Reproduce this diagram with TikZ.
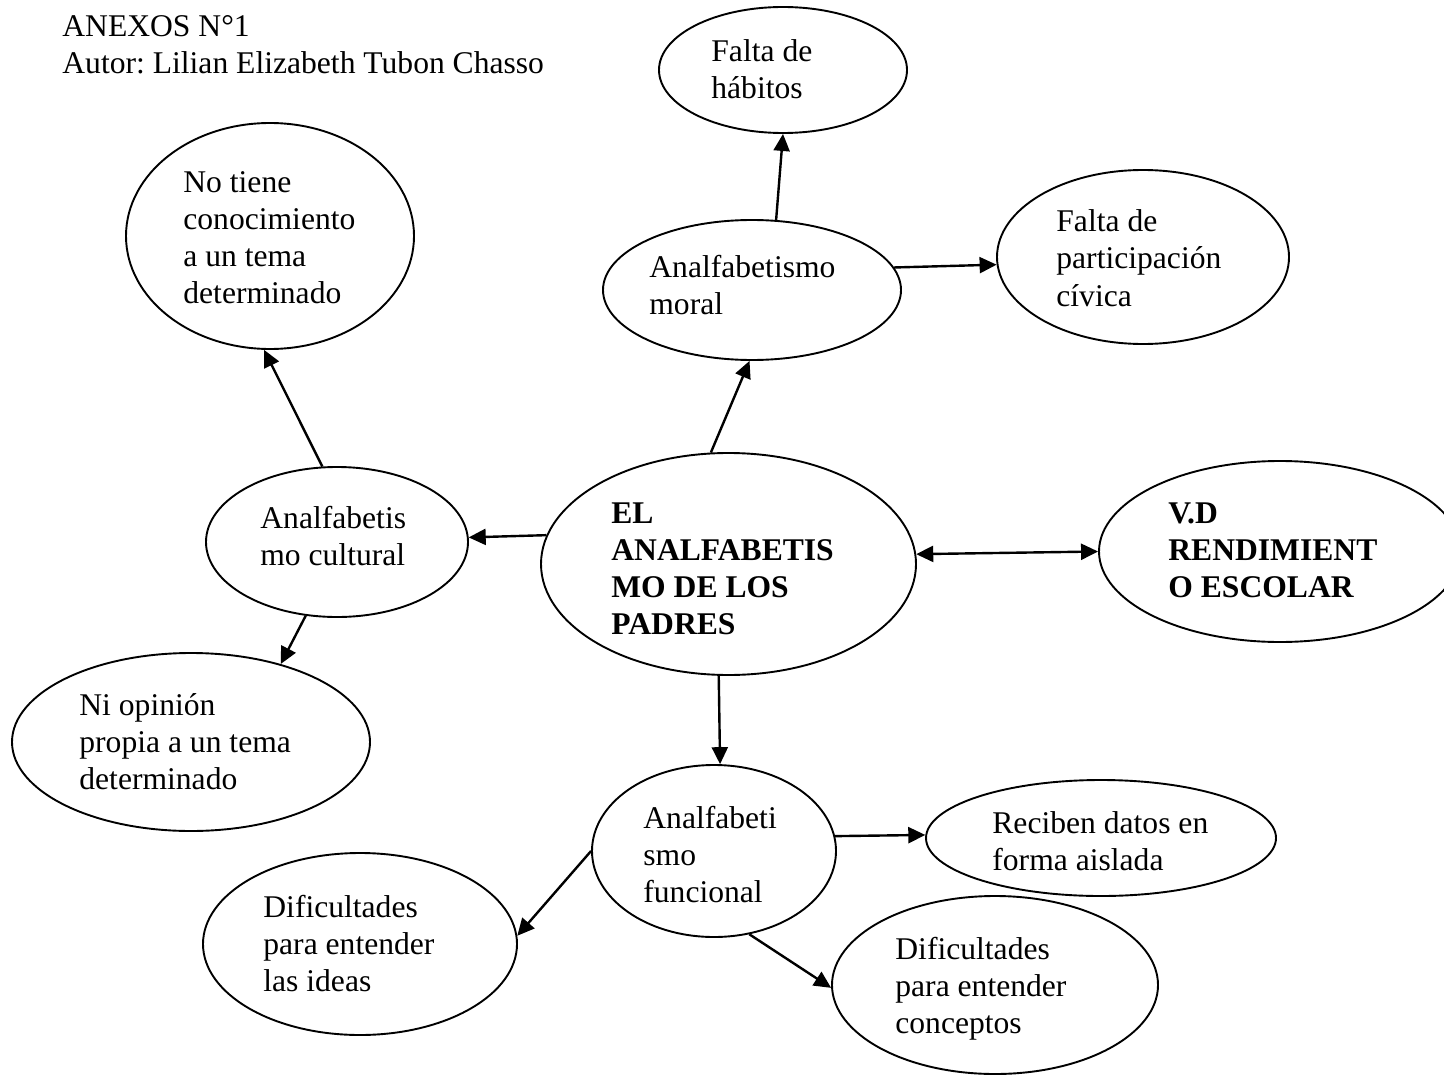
\documentclass[tikz,border=0pt]{standalone}
\usepackage{fontspec}
\setmainfont{Liberation Serif}
\usetikzlibrary{shapes.geometric,arrows.meta}
\frenchspacing
\newcommand\txtlines[1]{\begin{tabular}[t]{@{}l@{}}#1\end{tabular}}
\begin{document}
\begin{tikzpicture}[x=0.5pt,y=-0.5pt,
  ell/.style={draw, ellipse, line width=0.95pt, inner sep=0pt},
  lbl/.style={anchor=base west, inner sep=0pt, font=\fontsize{15.8}{18.5}\selectfont},
  conn/.style={line width=1.2pt, -{Triangle[length=8.5pt,width=8pt]}},
  biconn/.style={line width=1.2pt, {Triangle[length=8.5pt,width=8pt]}-{Triangle[length=8.5pt,width=8pt]}}]
\clip (0,0) rectangle (1444,1075);
\fill[white] (0,0) rectangle (1444,1075);

% ellipses
\node[ell, minimum width=124pt, minimum height=63pt] (hab) at (783,70) {};
\node[ell, minimum width=144pt, minimum height=113pt] (notiene) at (270,236) {};
\node[ell, minimum width=149pt, minimum height=70pt] (moral) at (752,290) {};
\node[ell, minimum width=146pt, minimum height=87pt] (part) at (1143,257) {};
\node[ell, minimum width=131pt, minimum height=75pt] (cult) at (337,542) {};
\node[ell, minimum width=187.5pt, minimum height=111pt] (main) at (728.5,564) {};
\node[ell, minimum width=181pt, minimum height=90.5pt] (vd) at (1280,551.5) {};
\node[ell, minimum width=179pt, minimum height=89pt] (ni) at (191,742) {};
\node[ell, minimum width=122pt, minimum height=86pt] (func) at (714,851) {};
\node[ell, minimum width=175pt, minimum height=58pt] (recib) at (1101,838) {};
\node[ell, minimum width=157pt, minimum height=91pt] (ideas) at (360,944) {};
\node[ell, minimum width=163pt, minimum height=89pt] (conc) at (995,985) {};

% texts
\node[lbl] (tanexos) at (62,37) {\txtlines{ANEXOS N°1\\Autor: Lilian Elizabeth Tubon Chasso}};
\node[lbl] (thab) at (711,62) {\txtlines{Falta de\\hábitos}};
\node[lbl] (tmoral) at (649,278) {\txtlines{Analfabetismo\\moral}};
\node[lbl] (tnotiene) at (183,192) {\txtlines{No tiene\\conocimiento\\a un tema\\determinado}};
\node[lbl] (tpart) at (1056,232) {\txtlines{Falta de\\participación\\cívica}};
\node[lbl] (tcult) at (260,528) {\txtlines{Analfabetis\\mo cultural}};
\node[lbl] (tmain) at (611,523) {\txtlines{\bfseries EL\\\bfseries ANALFABETIS\\\bfseries MO DE LOS\\\bfseries PADRES}};
\node[lbl] (tvd) at (1168,523) {\txtlines{\bfseries V.D\\\bfseries RENDIMIENT\\\bfseries O ESCOLAR}};
\node[lbl] (tni) at (79,715) {\txtlines{Ni opinión\\propia a un tema\\determinado}};
\node[lbl] (tfunc) at (643,828) {\txtlines{Analfabeti\\smo\\funcional}};
\node[lbl] (trecib) at (992,833) {\txtlines{Reciben datos en\\forma aislada}};
\node[lbl] (tideas) at (263,917) {\txtlines{Dificultades\\para entender\\las ideas}};
\node[lbl] (tconc) at (895,959) {\txtlines{Dificultades\\para entender\\conceptos}};

% connectors
\draw[conn] (moral.71.3) -- (hab.-90);
\draw[conn] (main.99) -- (moral.-92);
\draw[conn] (moral.9.7) -- (part.183.5);
\draw[conn] (cult.101.5) -- (notiene.267.4);
\draw[conn] (main.171.7) -- (cult.2.3);
\draw[conn] (cult.247.2) -- (ni.41.2);
\draw[biconn] (main.3.5) -- (vd.180);
\draw[conn] (main.265.6) -- (func.86);
\draw[conn] (func.7.2) -- (recib.179.3);
\draw[conn] (func.180.5) -- (ideas.3.3);
\draw[conn] (func.293.7) -- (conc.181);
\end{tikzpicture}
\end{document}
